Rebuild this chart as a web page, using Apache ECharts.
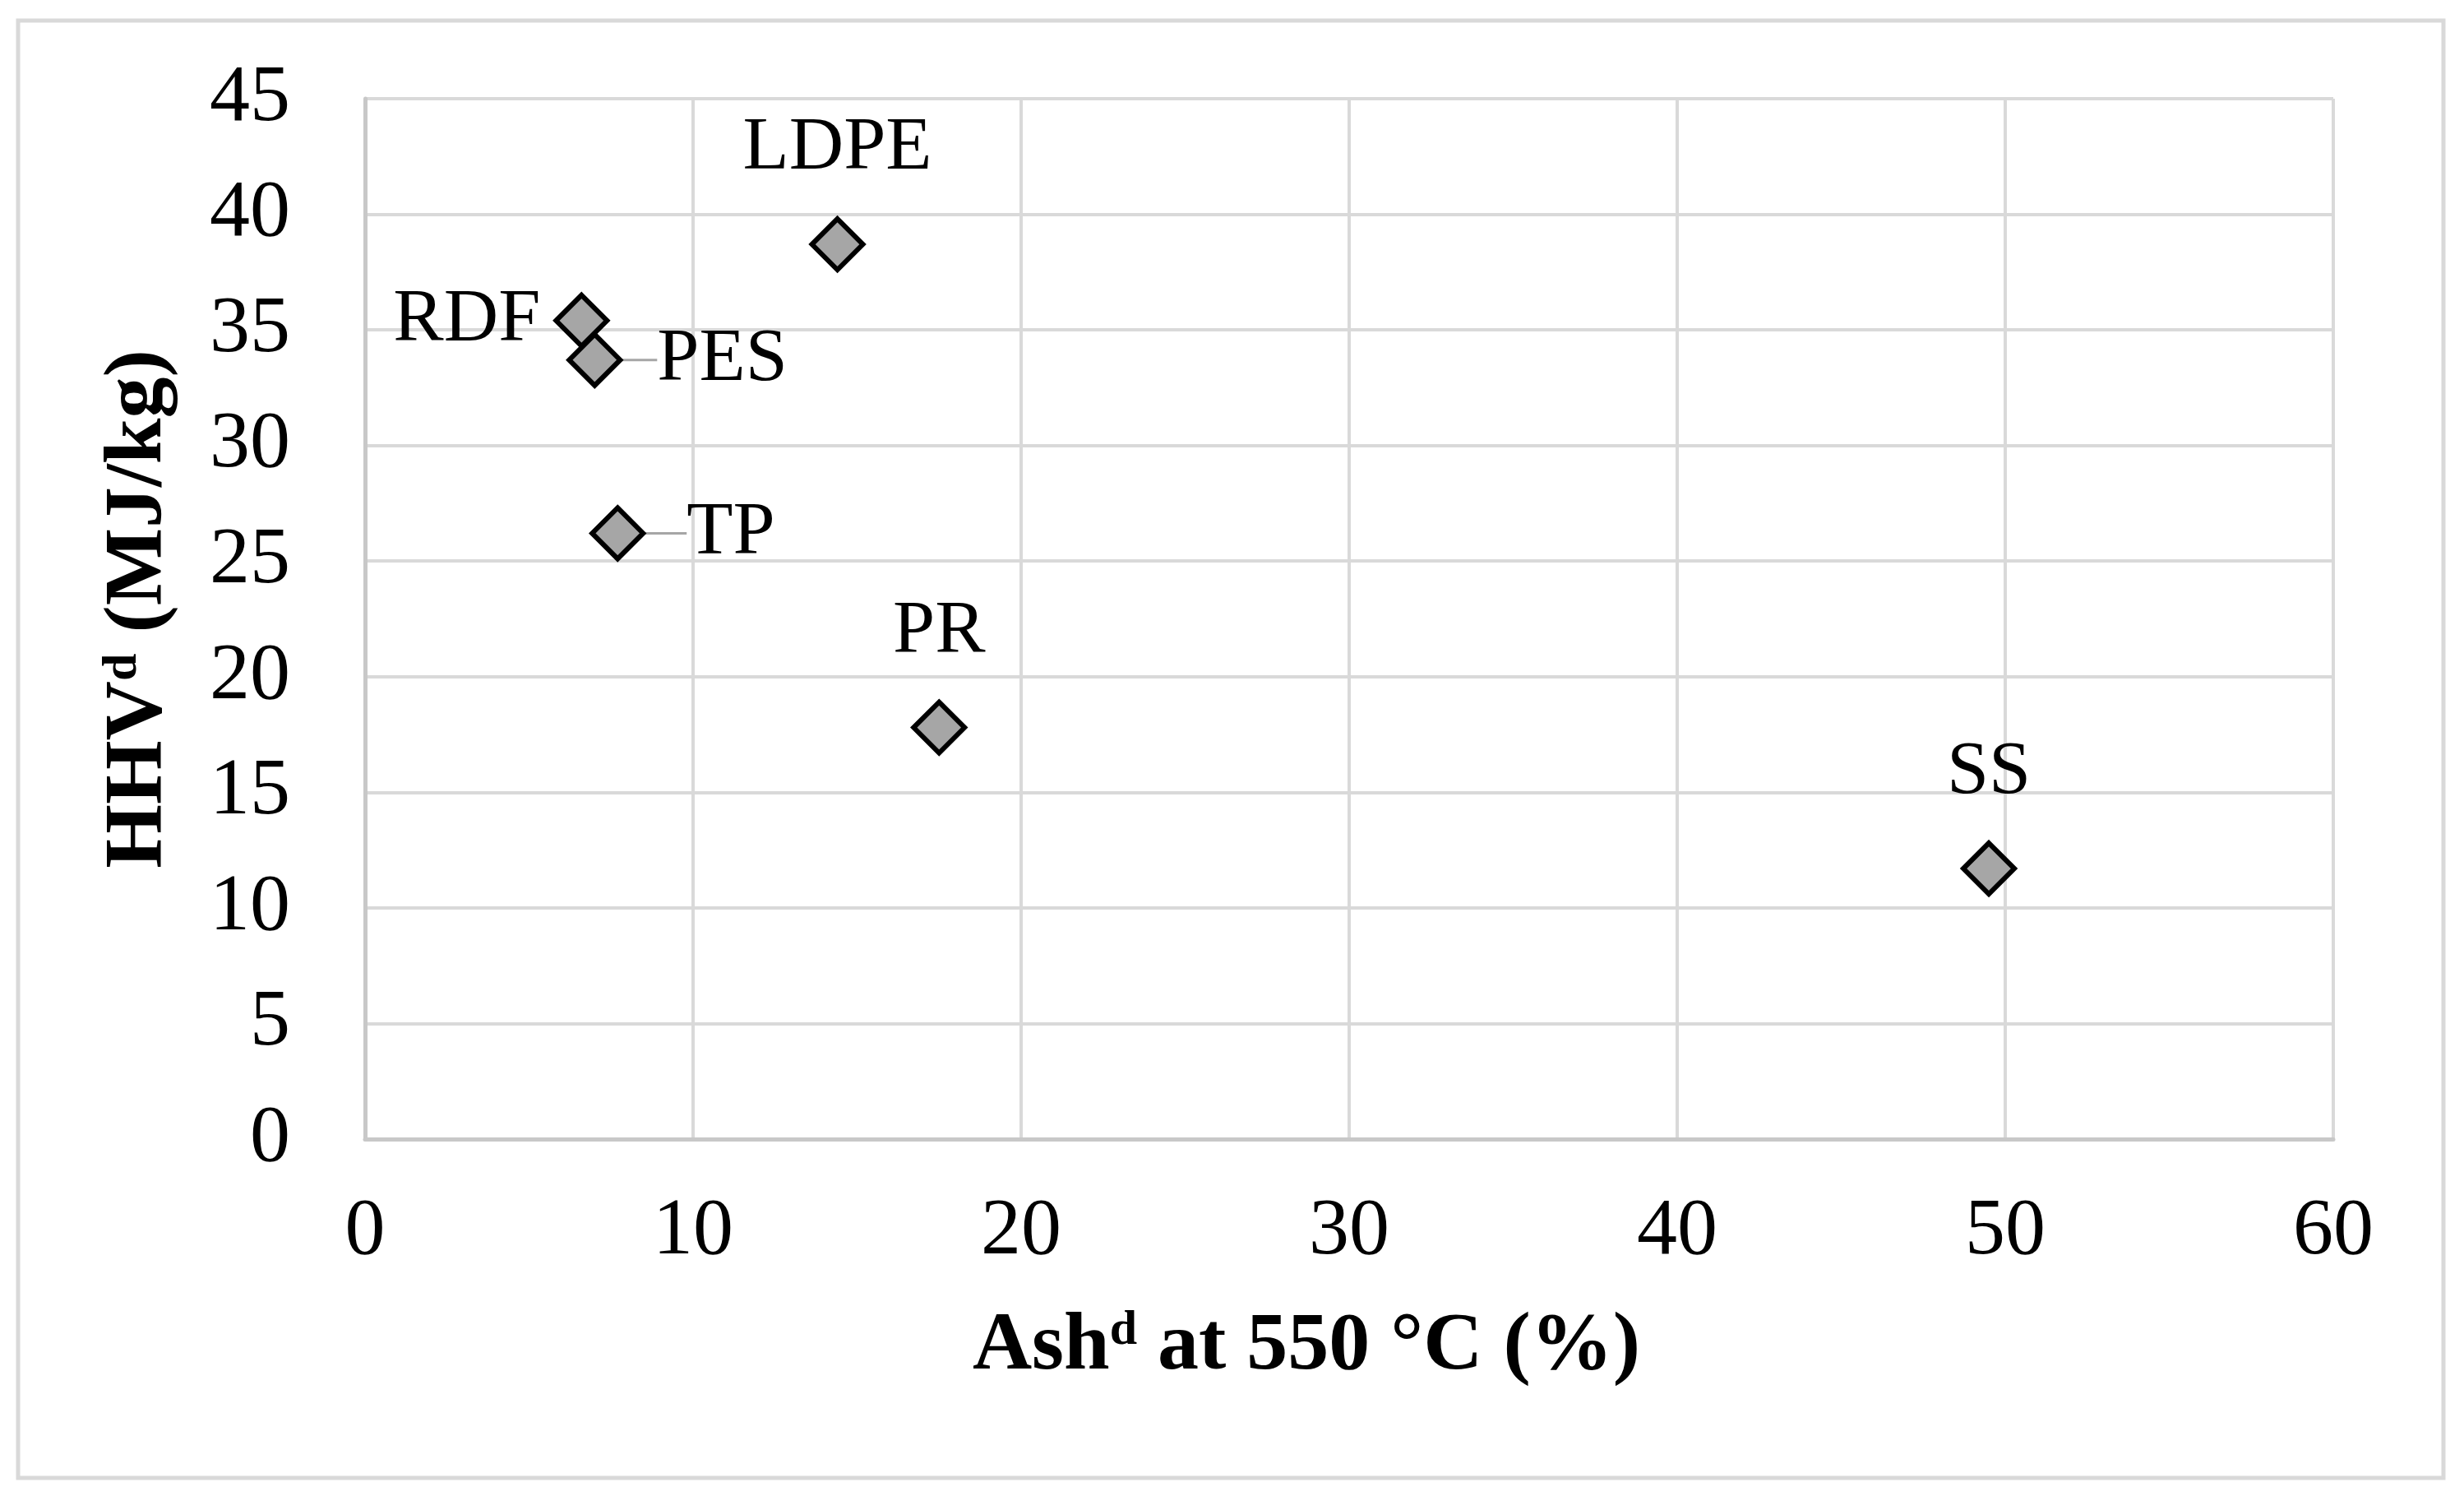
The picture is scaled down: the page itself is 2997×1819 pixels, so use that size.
<!DOCTYPE html>
<html>
<head>
<meta charset="utf-8">
<script src="https://cdn.jsdelivr.net/npm/echarts@6/dist/echarts.min.js"></script>
<style>
html,body{margin:0;padding:0;background:#fff;}
#chart{width:2997px;height:1819px;}
</style>
</head>
<body>
<div id="chart"></div>
<script>
// Data
var sampleNames = ['LDPE', 'RDF', 'PES', 'TP', 'PR', 'SS'];
var ashValues = [14.4, 6.6, 7.0, 7.7, 17.5, 49.5];     // Ash^d at 550 °C (%)
var hhvValues = [38.7, 35.4, 33.7, 26.2, 17.8, 11.7];  // HHV^d (MJ/kg)
var xTicks = [0, 10, 20, 30, 40, 50, 60];
var yTicks = [0, 5, 10, 15, 20, 25, 30, 35, 40, 45];

var FONT = 'Liberation Serif';
var labelFont = 92;

// label placement styles (by sample name)
var labelStyles = {
  LDPE: {pos: 'top'},
  PR: {pos: 'top'},
  SS: {pos: 'top'},
  RDF: {pos: 'left'},
  PES: {pos: 'right', dx: 18, pad: 24},
  TP: {pos: 'right', dx: 23, pad: 27}
};

var data = sampleNames.map(function (n, i) {
  var st = labelStyles[n];
  var item = {name: n, value: [ashValues[i], hhvValues[i]]};
  if (st.pos === 'top') {
    item.label = {position: 'top', distance: 36};
  } else if (st.pos === 'left') {
    item.label = {position: 'left', distance: 16, offset: [0, -8]};
  } else {
    item.label = {position: 'right', distance: 0, padding: [0, 0, 0, st.pad]};
    item.labelLine = {show: true, lineStyle: {color: '#a6a6a6', width: 3}};
  }
  return item;
});

var chart = echarts.init(document.getElementById('chart'), null, {renderer: 'canvas'});
chart.setOption({
  animation: false,
  backgroundColor: '#ffffff',
  textStyle: {fontFamily: FONT},
  graphic: [{
    type: 'rect',
    shape: {x: 22, y: 25, width: 2950, height: 1772},
    style: {fill: 'none', stroke: '#d9d9d9', lineWidth: 5},
    silent: true
  }],
  grid: {left: 444, right: 159, top: 120, bottom: 434, containLabel: false},
  xAxis: {
    type: 'value',
    min: xTicks[0],
    max: xTicks[xTicks.length - 1],
    interval: xTicks[1] - xTicks[0],
    axisLine: {show: true, lineStyle: {color: '#c8c8c8', width: 5}},
    axisTick: {show: false},
    splitLine: {show: true, lineStyle: {color: '#d9d9d9', width: 4}},
    axisLabel: {color: '#000', fontFamily: FONT, fontSize: 98, margin: 64},
    name: '{b|Ash}{s|d}{b| at 550 °C (%)}',
    nameLocation: 'middle',
    nameGap: 203,
    nameTextStyle: {
      padding: [0, 104, 0, 0],
      rich: {
        b: {fontFamily: FONT, fontSize: 100, fontWeight: 'bold', color: '#000'},
        s: {fontFamily: FONT, fontSize: 60, fontWeight: 'bold', color: '#000', verticalAlign: 'top'}
      }
    }
  },
  yAxis: {
    type: 'value',
    min: yTicks[0],
    max: yTicks[yTicks.length - 1],
    interval: yTicks[1] - yTicks[0],
    axisLine: {show: true, lineStyle: {color: '#c8c8c8', width: 5}},
    axisTick: {show: false},
    splitLine: {show: true, lineStyle: {color: '#d9d9d9', width: 4}},
    axisLabel: {color: '#000', fontFamily: FONT, fontSize: 98, margin: 91, padding: [0, 0, 12, 0]},
    name: '{b|HHV}{s|d}{b| (MJ/kg)}',
    nameLocation: 'middle',
    nameGap: 225,
    nameTextStyle: {
      padding: [0, 0, 0, 24],
      rich: {
        b: {fontFamily: FONT, fontSize: 100, fontWeight: 'bold', color: '#000'},
        s: {fontFamily: FONT, fontSize: 60, fontWeight: 'bold', color: '#000', verticalAlign: 'top'}
      }
    }
  },
  series: [{
    type: 'scatter',
    symbol: 'diamond',
    symbolSize: 62,
    itemStyle: {color: '#a6a6a6', borderColor: '#000', borderWidth: 6, opacity: 1},
    label: {
      show: true,
      formatter: '{b}',
      color: '#000',
      fontFamily: FONT,
      fontSize: labelFont
    },
    labelLayout: function (params) {
      var n = sampleNames[params.dataIndex];
      var st = labelStyles[n];
      if (st && st.dx) { return {dx: st.dx}; }
      return {};
    },
    emphasis: {disabled: true},
    data: data
  }]
});
</script>
</body>
</html>
